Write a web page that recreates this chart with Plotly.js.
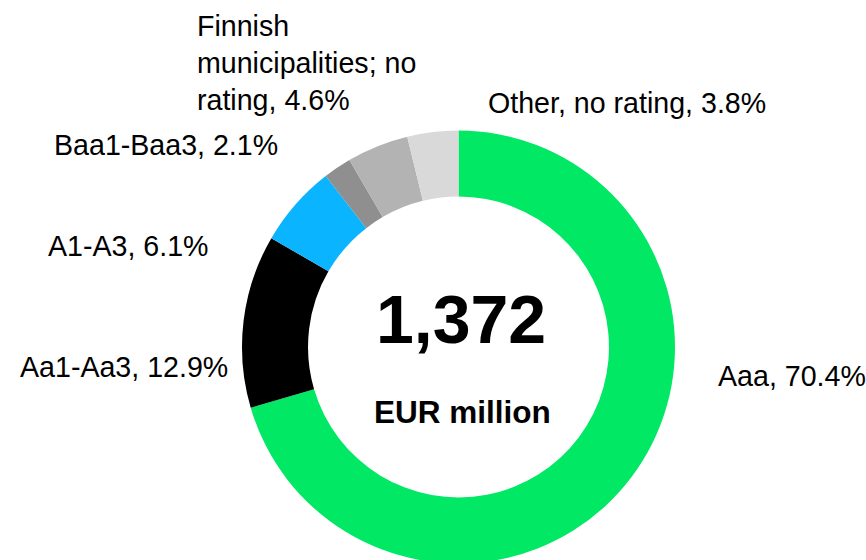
<!DOCTYPE html>
<html>
<head>
<meta charset="utf-8">
<script src="https://cdn.plot.ly/plotly-3.0.1.min.js"></script>
<style>
html, body { margin: 0; padding: 0; background: #ffffff; overflow: hidden; }
#wrap { width: 866px; height: 560px; overflow: hidden; position: relative; }
#chart { width: 866px; height: 694px; }
</style>
</head>
<body>
<div id="wrap"><div id="chart"></div></div>
<script>
// Data
var categories = ["Aaa", "Aa1-Aa3", "A1-A3", "Baa1-Baa3", "Finnish municipalities; no rating", "Other, no rating"];
var sharePct = [70.4, 12.9, 6.1, 2.1, 4.6, 3.8];
var labelTexts = ["Aaa, 70.4%", "Aa1-Aa3, 12.9%", "A1-A3, 6.1%", "Baa1-Baa3, 2.1%", "Finnish<br>municipalities; no<br>rating, 4.6%", "Other, no rating, 3.8%"];
var totalValue = "1,372";
var totalUnit = "EUR million";

var sliceColors = ["#00e864", "#000000", "#0ab4ff", "#8f8f8f", "#b3b3b3", "#d9d9d9"];

var W = 866, H = 694;
function px(x) { return x / W; }
function py(y) { return 1 - y / H; }

// label positions (pixel, left edge x / vertical middle y)
var labelPos = [
  [716, 376],
  [18, 367],
  [46, 246],
  [52, 145],
  [195, 63],
  [486, 103]
];

var annotations = [];
for (var i = 0; i < labelTexts.length; i++) {
  annotations.push({
    xref: "paper", yref: "paper",
    x: px(labelPos[i][0]), y: py(labelPos[i][1]),
    xanchor: "left", yanchor: "middle", align: "left",
    text: labelTexts[i], showarrow: false,
    font: { family: "Liberation Sans, Arial, sans-serif", size: 28.6, color: "#000000" }
  });
}
annotations.push({
  xref: "paper", yref: "paper", x: px(461), y: py(319),
  xanchor: "center", yanchor: "middle", showarrow: false,
  text: "<b>" + totalValue + "</b>",
  font: { family: "Liberation Sans, Arial, sans-serif", size: 68, color: "#000000" }
});
annotations.push({
  xref: "paper", yref: "paper", x: px(462), y: py(412),
  xanchor: "center", yanchor: "middle", showarrow: false,
  text: "<b>" + totalUnit + "</b>",
  font: { family: "Liberation Sans, Arial, sans-serif", size: 31.5, color: "#000000" }
});

var cx = 458.5, r = 216.5;
var trace = {
  type: "pie",
  labels: categories,
  values: sharePct,
  sort: false,
  direction: "clockwise",
  rotation: 0,
  hole: 0.695,
  textinfo: "none",
  hoverinfo: "none",
  showlegend: false,
  marker: { colors: sliceColors, line: { width: 0 } },
  domain: { x: [(cx - r) / W, (cx + r) / W], y: [0, 1] }
};

var layout = {
  width: W, height: H,
  margin: { l: 0, r: 0, t: 0, b: 0 },
  paper_bgcolor: "#ffffff",
  plot_bgcolor: "#ffffff",
  showlegend: false,
  annotations: annotations
};

Plotly.newPlot("chart", [trace], layout, { staticPlot: true, displayModeBar: false });
</script>
</body>
</html>
